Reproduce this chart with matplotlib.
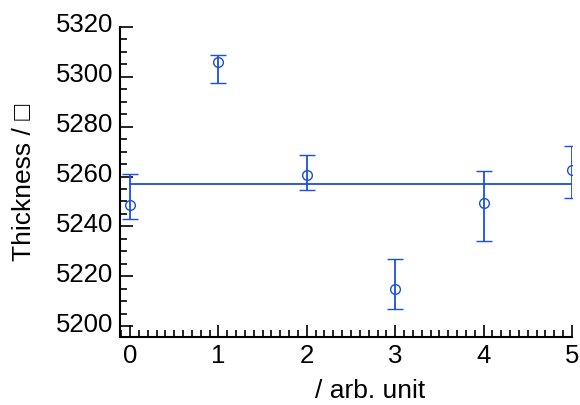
import matplotlib
matplotlib.use("Agg")
import matplotlib.pyplot as plt
import matplotlib.transforms as mtransforms
from matplotlib.ticker import MultipleLocator
import numpy as np

plt.rcParams["font.family"] = ["Liberation Sans", "DejaVu Sans"]

# data
x_vals = [0, 1, 2, 3, 4, 5]
thickness = [5248.6, 5306.1, 5260.7, 5214.7, 5249.2, 5262.8]
err_upper = [5261.1, 5308.9, 5268.5, 5227.0, 5262.4, 5272.1]
err_lower = [5243.0, 5297.5, 5254.5, 5206.8, 5234.2, 5251.2]
mean_level = 5257.0

blue = "#1a4ee0"

fig = plt.figure(figsize=(5.8, 4.05), dpi=100)
ax = fig.add_axes([120 / 580, 1 - 337 / 405, 452 / 580, 310 / 405])

y = np.array(thickness)
yerr = [y - np.array(err_lower), np.array(err_upper) - y]
ax.errorbar(x_vals, y, yerr=yerr, fmt="o", mfc="none", mec=blue, ms=7, mew=1.0,
            ecolor=blue, elinewidth=1.3, capsize=6, capthick=1.3, zorder=3)
ax.plot([x_vals[0], x_vals[-1]], [mean_level, mean_level], color=blue, lw=1.3, zorder=2)

ax.set_xlim(-0.113, 5.0)
ax.set_ylim(5195.6, 5320)

ax.spines["top"].set_visible(False)
ax.spines["right"].set_visible(False)
ax.spines["left"].set_linewidth(1.5)
ax.spines["bottom"].set_linewidth(1.5)

ax.xaxis.set_major_locator(MultipleLocator(1))
ax.xaxis.set_minor_locator(MultipleLocator(0.1))
ax.yaxis.set_major_locator(MultipleLocator(20))
ax.yaxis.set_minor_locator(MultipleLocator(5))
ax.tick_params(which="both", direction="in", labelsize=18.5, width=1.2, pad=5)
ax.tick_params(which="major", length=9)
ax.tick_params(which="minor", length=5)

# y tick labels sit a little above their ticks in the original
shift = mtransforms.ScaledTranslation(0, 0.04, fig.dpi_scale_trans)
for lbl in ax.get_yticklabels():
    lbl.set_transform(lbl.get_transform() + shift)

ax.set_xlabel("/ arb. unit", fontsize=19)
ax.xaxis.set_label_coords(0.553, -0.135)
ax.set_ylabel("Thickness / \u25a1", fontsize=19)
ax.yaxis.set_label_coords(-0.185, 0.5)

fig.savefig("out.png", dpi=100)
